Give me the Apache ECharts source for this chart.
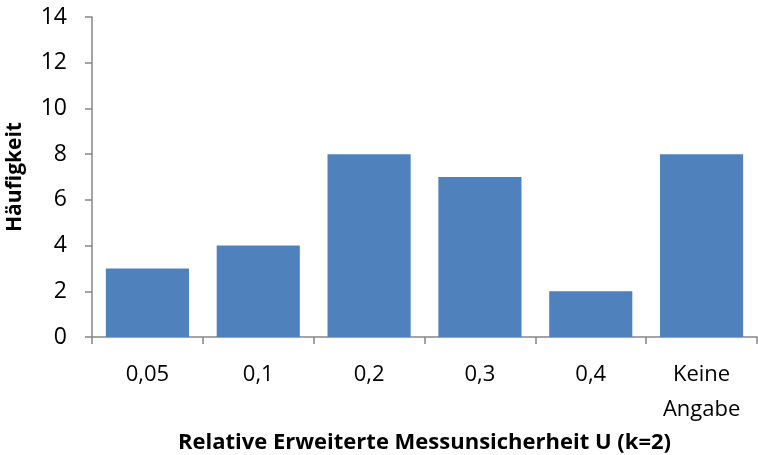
<!DOCTYPE html>
<html>
<head>
<meta charset="utf-8">
<script src="https://cdn.jsdelivr.net/npm/echarts@6/dist/echarts.min.js"></script>
<style>
  html, body { margin: 0; padding: 0; background: #fff; }
  #chart { width: 758px; height: 455px; }
</style>
</head>
<body>
<div id="chart"></div>
<script>
// data
var categories = ["0,05", "0,1", "0,2", "0,3", "0,4", "Keine\nAngabe"];
var counts = [3, 4, 8, 7, 2, 8];

var font = "'Open Sans', 'Liberation Sans', sans-serif";
var axisGray = "#868686";

var myChart = echarts.init(document.getElementById("chart"));
var option = {
  animation: false,
  grid: {
    left: 92,
    right: 1,
    top: 17,
    bottom: 118,
    outerBoundsMode: "none"
  },
  xAxis: {
    type: "category",
    data: categories,
    name: "Relative Erweiterte Messunsicherheit U (k=2)",
    nameLocation: "middle",
    nameGap: 92,
    nameTextStyle: {
      fontFamily: font,
      fontSize: 22,
      fontWeight: "bold",
      color: "#000"
    },
    axisLine: { lineStyle: { color: axisGray, width: 1.5 } },
    axisTick: { show: true, length: 7, lineStyle: { color: axisGray, width: 1.5 } },
    axisLabel: {
      fontFamily: font,
      fontSize: 22,
      color: "#000",
      margin: 20,
      lineHeight: 35
    }
  },
  yAxis: {
    type: "value",
    min: 0,
    max: 14,
    interval: 2,
    name: "Häufigkeit",
    nameLocation: "middle",
    nameGap: 66,
    nameRotate: 90,
    nameTextStyle: {
      fontFamily: font,
      fontSize: 21,
      fontWeight: "bold",
      color: "#000"
    },
    splitLine: { show: false },
    axisLine: { show: true, lineStyle: { color: axisGray, width: 1.5 } },
    axisTick: { show: true, length: 7, lineStyle: { color: axisGray, width: 1.5 } },
    axisLabel: {
      fontFamily: font,
      fontSize: 23,
      color: "#000",
      margin: 25
    }
  },
  series: [
    {
      type: "bar",
      data: counts,
      barWidth: "75%",
      itemStyle: { color: "#4F81BD" }
    }
  ]
};
myChart.setOption(option, true);
</script>
</body>
</html>
